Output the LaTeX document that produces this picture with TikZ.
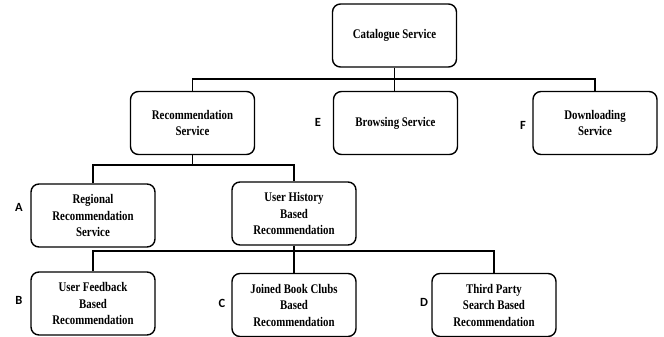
\documentclass[tikz,border=0pt]{standalone}
\usepackage{fontspec}
\setmainfont{Liberation Serif}[FakeStretch=0.82]
\newfontfamily\lblfont{Carlito}
\begin{document}
\begin{tikzpicture}[x=1pt,y=-1pt,
  box/.style={draw,line width=1.4pt,rounded corners=8pt,minimum width=124pt,minimum height=63pt,
    align=center,font=\fontsize{13.2}{16.5}\selectfont\bfseries,inner sep=2pt},
  conn/.style={line width=1.4pt},
  lbl/.style={font=\lblfont\fontsize{12.5}{13}\selectfont\bfseries,inner sep=0pt}]
\useasboundingbox (0,0) rectangle (664,337);
\node[box] (cat) at (394.5,35.5) {Catalogue Service};
\node[box] (rec) at (192.5,123) {Recommendation\\Service};
\node[box] (brw) at (395.5,123) {Browsing Service};
\node[box] (dwn) at (595,123) {Downloading\\Service};
\node[box] (reg) at (93,215.5) {Regional\\Recommendation\\Service};
\node[box] (uh) at (294,213.5) {User History\\Based\\Recommendation};
\node[box] (uf) at (93,303.5) {User Feedback\\Based\\Recommendation};
\node[box] (jbc) at (294,305) {Joined Book Clubs\\Based\\Recommendation};
\node[box] (tp) at (494,305) {Third Party\\Search Based\\Recommendation};
\coordinate (b1) at (0,79);
\coordinate (b2) at (0,165);
\coordinate (b3) at (0,251);
\draw[conn] (rec.north) |- (dwn.north |- b1) -- (dwn.north);
\draw[conn] (cat.south) -- (cat.south |- brw.north);
\draw[conn] (reg.north) |- (uh.north |- b2) -- (uh.north);
\draw[conn] (rec.south) -- (rec.south |- b2);
\draw[conn] (uf.north) |- (tp.north |- b3) -- (tp.north);
\draw[conn] (uh.south) -- (jbc.north);
\node[lbl] (le) at (318,122) {E};
\node[lbl] (lf) at (523,125) {F};
\node[lbl] (la) at (19,207) {A};
\node[lbl] (lb) at (19,300) {B};
\node[lbl] (lc) at (222,303) {C};
\node[lbl] (ld) at (424,302) {D};
\end{tikzpicture}
\end{document}
